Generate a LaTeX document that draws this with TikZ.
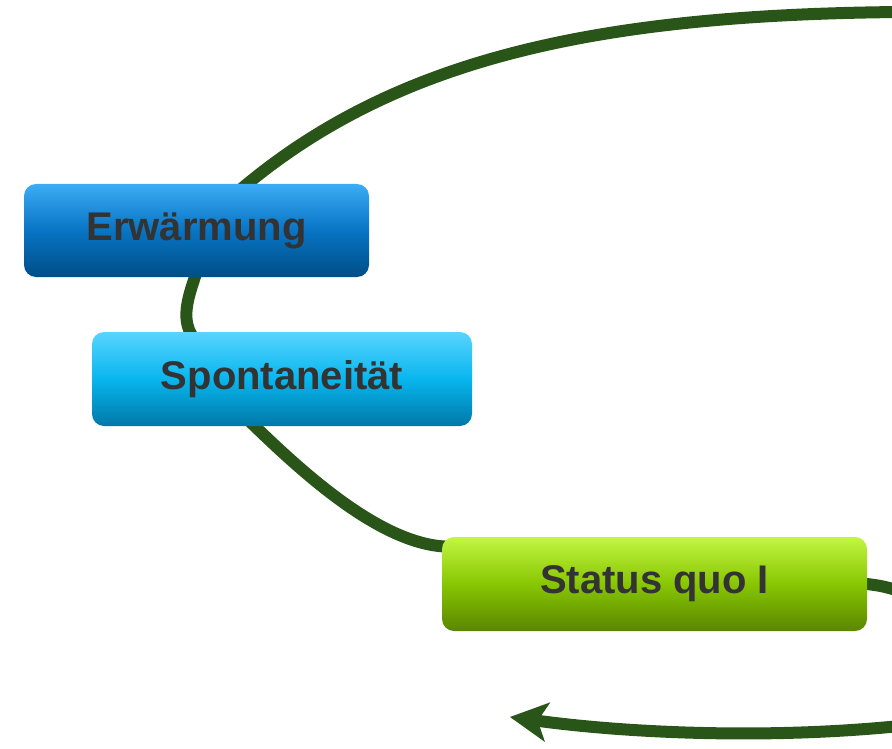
\documentclass[tikz,border=0pt]{standalone}
\usepackage{fontspec}
\setmainfont{Liberation Sans}
\usetikzlibrary{arrows.meta,backgrounds}
\definecolor{connc}{HTML}{2A5518}
\definecolor{txt}{HTML}{333333}
\definecolor{eA}{HTML}{3CACF6}
\definecolor{eB}{HTML}{0874C4}
\definecolor{eC}{HTML}{004E86}
\definecolor{sA}{HTML}{58D4FF}
\definecolor{sB}{HTML}{08B6EE}
\definecolor{sC}{HTML}{0078A8}
\definecolor{qA}{HTML}{C2F642}
\definecolor{qB}{HTML}{88C602}
\definecolor{qC}{HTML}{5A8600}
\begin{document}
\begin{tikzpicture}[x=1pt,y=-1pt,
  box/.style={rounded corners=12pt, inner sep=0pt, minimum height=94pt,
    text=txt, font=\fontsize{40}{48}\selectfont\bfseries},
  conn/.style={draw=connc, line width=12pt}]
\useasboundingbox (0,0) rectangle (892,749);
\node[box, minimum width=345pt, minimum height=93pt,
  top color=eA, bottom color=eC, middle color=eB] (erw) at (196.5,230.5) {Erwärmung};
\node[box, minimum width=380pt,
  top color=sA, bottom color=sC, middle color=sB] (spon) at (282,379) {Spontaneität};
\node[box, minimum width=425pt,
  top color=qA, bottom color=qC, middle color=qB] (sq) at (654.5,584) {Status quo I};
\coordinate (tr) at (900,12);
\coordinate (mr) at (900,591);
\coordinate (br) at (900,726);
\coordinate (bl) at (510,717);
\begin{pgfonlayer}{background}
\draw[conn] (tr) .. controls (575,15) and (360,64) .. (erw.center);
\draw[conn, shorten <=-6pt, shorten >=-6pt] (erw.-92) .. controls (189,295) and (180,318) .. (spon.153);
\draw[conn, shorten <=-6pt, shorten >=-6pt] (spon.240) .. controls (300,470) and (380,545) .. (sq.170);
\draw[conn] (sq.center) -- (sq.east) .. controls (882,586) .. (mr);
\draw[conn, -{Stealth[length=38pt, width=40pt, inset=10pt, line width=0pt]}] (br) .. controls (760,740) and (620,732) .. (bl);
\end{pgfonlayer}
\end{tikzpicture}
\end{document}
